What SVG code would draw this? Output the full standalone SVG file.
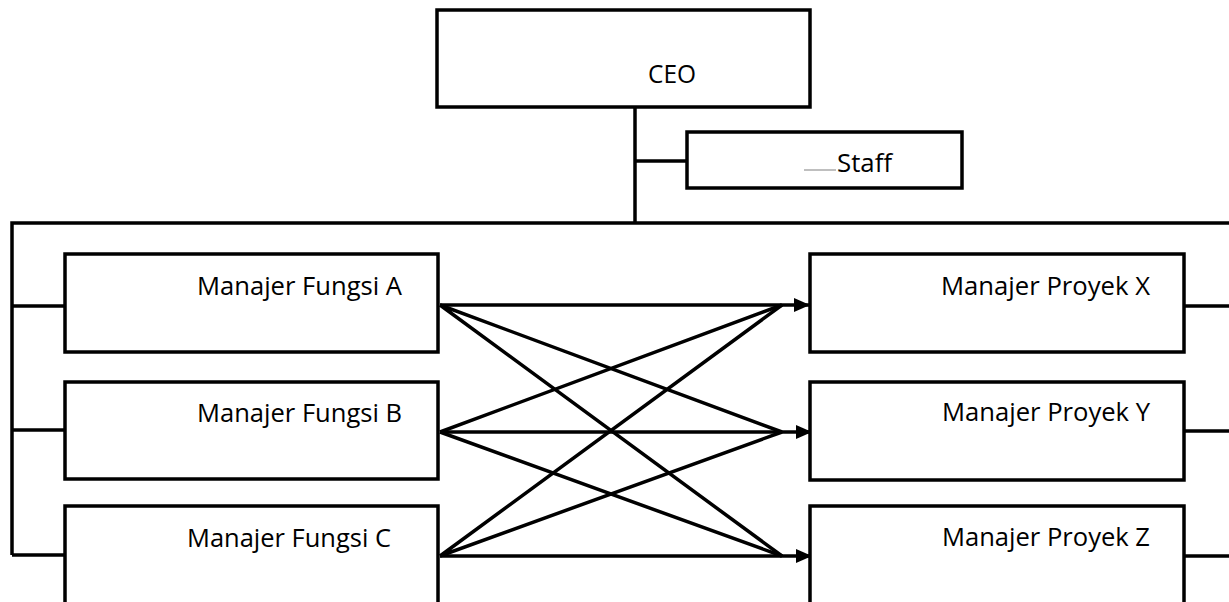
<svg xmlns="http://www.w3.org/2000/svg" width="1229" height="602" viewBox="0 0 1229 602">
<style>
.box{fill:#fff;stroke:#000;stroke-width:3.5}
.ln{fill:none;stroke:#000;stroke-width:3.5}
.t{font-family:"Open Sans","Liberation Sans",sans-serif;font-size:25px;fill:#000}
</style>
<defs>
<marker id="ah" markerUnits="userSpaceOnUse" markerWidth="16" markerHeight="14" refX="16" refY="7" orient="auto">
<path d="M0,0 L16,7 L0,14 Z" fill="#000"/>
</marker>
</defs>
<g id="connectors">
<path class="ln" d="M635,107 V223"/>
<path class="ln" d="M635,161 H687"/>
<path class="ln" d="M12,555 V223 H1229"/>
<path class="ln" d="M12,306 H65 M12,430 H65 M12,555 H65"/>
<path class="ln" d="M1184,306 H1229 M1184,431 H1229 M1184,556 H1229"/>
<path class="ln" d="M440,305 L782,432 M440,305 L782,556"/>
<path class="ln" d="M440,432 L782,305 M440,432 L782,556"/>
<path class="ln" d="M440,556 L782,305 M440,556 L782,432"/>
<line class="ln" x1="440" y1="305" x2="810" y2="305" marker-end="url(#ah)"/>
<line class="ln" x1="440" y1="432" x2="812" y2="432" marker-end="url(#ah)"/>
<line class="ln" x1="440" y1="556" x2="812" y2="556" marker-end="url(#ah)"/>
</g>
<g id="ceo">
<rect class="box" x="437" y="10" width="373" height="97"/>
<text class="t" x="648" y="83" textLength="48" lengthAdjust="spacingAndGlyphs">CEO</text>
</g>
<g id="staff">
<rect class="box" x="687" y="132" width="275" height="56"/>
<line x1="804" y1="170" x2="836" y2="170" stroke="#aaa" stroke-width="1.5"/>
<text class="t" x="837" y="172" textLength="55" lengthAdjust="spacingAndGlyphs">Staff</text>
</g>
<g id="fungsi-a">
<rect class="box" x="65" y="254" width="373" height="98"/>
<text class="t" x="197" y="295" textLength="205" lengthAdjust="spacingAndGlyphs">Manajer Fungsi A</text>
</g>
<g id="fungsi-b">
<rect class="box" x="65" y="382" width="373" height="97"/>
<text class="t" x="197" y="422" textLength="205" lengthAdjust="spacingAndGlyphs">Manajer Fungsi B</text>
</g>
<g id="fungsi-c">
<rect class="box" x="65" y="506" width="373" height="110"/>
<text class="t" x="187" y="547" textLength="204" lengthAdjust="spacingAndGlyphs">Manajer Fungsi C</text>
</g>
<g id="proyek-x">
<rect class="box" x="810" y="254" width="374" height="98"/>
<text class="t" x="941" y="295" textLength="209" lengthAdjust="spacingAndGlyphs">Manajer Proyek X</text>
</g>
<g id="proyek-y">
<rect class="box" x="810" y="382" width="374" height="98"/>
<text class="t" x="942" y="421" textLength="208" lengthAdjust="spacingAndGlyphs">Manajer Proyek Y</text>
</g>
<g id="proyek-z">
<rect class="box" x="810" y="506" width="374" height="110"/>
<text class="t" x="942" y="546" textLength="208" lengthAdjust="spacingAndGlyphs">Manajer Proyek Z</text>
</g>
</svg>
